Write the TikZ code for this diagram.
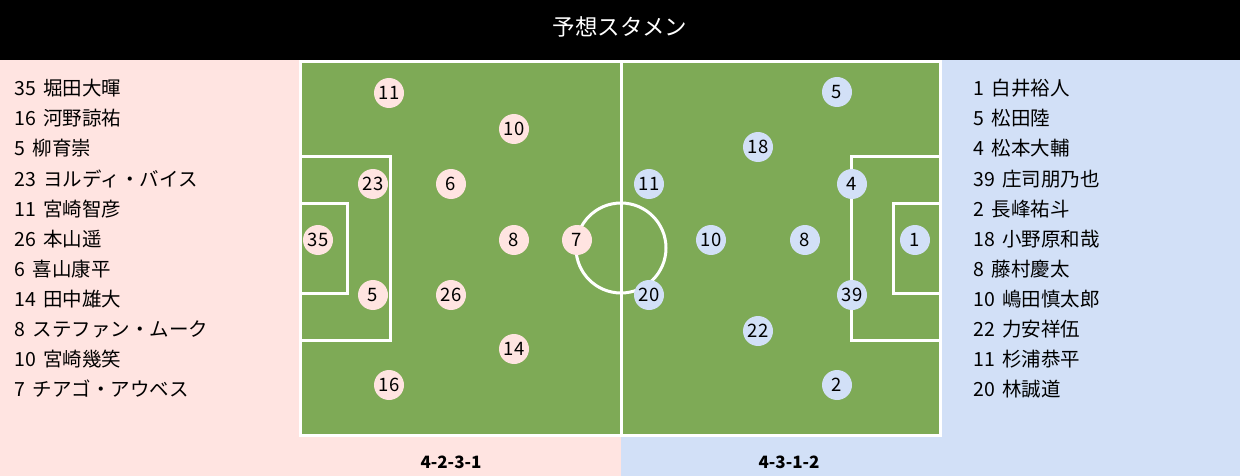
\documentclass[tikz,border=0pt]{standalone}
\usepackage{fontspec}
\setmainfont{Noto Sans CJK JP}
\definecolor{pinkbg}{HTML}{FFE4E1}
\definecolor{bluebg}{HTML}{D2E0F7}
\definecolor{pitch}{HTML}{7EAA56}
\tikzset{
  line/.style={draw=white, line width=3pt},
  pl/.style={circle, minimum size=30pt, inner sep=0pt, font=\fontsize{18.5}{18}\selectfont, text=black},
  home/.style={pl, fill=pinkbg},
  away/.style={pl, fill=bluebg},
  entry/.style={anchor=base west, inner sep=0pt, font=\fontsize{19.5}{20}\selectfont, text=black},
  form/.style={anchor=base, inner sep=0pt, font=\fontsize{17}{18}\selectfont\bfseries, text=black}
}
\begin{document}
\begin{tikzpicture}[x=1pt,y=-1pt]
\useasboundingbox (0,0) rectangle (1240,476);
\fill[black] (0,0) rectangle (1240,60);
\fill[pinkbg] (0,60) rectangle (621,476);
\fill[bluebg] (621,60) rectangle (1240,476);
\node[text=white, font=\fontsize{22.5}{24}\selectfont, anchor=base] (title) at (620,36) {予想スタメン};
% pitch
\fill[pitch] (300,62) rectangle (940,435);
\draw[line] (300,62) rectangle (940,435);
\draw[line] (621,62) -- (621,435);
\draw[line] (621,248) circle[radius=45];
\draw[line] (300,157) -- (390,157) -- (390,340) -- (300,340);
\draw[line] (300,203) -- (347,203) -- (347,293) -- (300,293);
\draw[line] (940,157) -- (851,157) -- (851,340) -- (940,340);
\draw[line] (940,203) -- (893,203) -- (893,293) -- (940,293);
% home players
\node[home] (h11) at (389,93) {11};
\node[home] (h10) at (514,129) {10};
\node[home] (h23) at (373,184) {23};
\node[home] (h6) at (451,184) {6};
\node[home] (h35) at (318,240) {35};
\node[home] (h8) at (514,240) {8};
\node[home] (h7) at (577,240) {7};
\node[home] (h5) at (373,295) {5};
\node[home] (h26) at (451,295) {26};
\node[home] (h14) at (514,349) {14};
\node[home] (h16) at (389,385) {16};
% away players
\node[away] (a5) at (837,92) {5};
\node[away] (a18) at (758,147) {18};
\node[away] (a11) at (649,184) {11};
\node[away] (a4) at (852,184) {4};
\node[away] (a10) at (711,240) {10};
\node[away] (a8) at (805,240) {8};
\node[away] (a1) at (915,240) {1};
\node[away] (a20) at (649,295) {20};
\node[away] (a39) at (852,295) {39};
\node[away] (a22) at (758,331) {22};
\node[away] (a2) at (837,385) {2};
% home list
\node[entry] (l1) at (14,96) {35\, 堀田大暉};
\node[entry] (l2) at (14,126) {16\, 河野諒祐};
\node[entry] (l3) at (14,156) {5\, 柳育崇};
\node[entry] (l4) at (14,186) {23\, ヨルディ・バイス};
\node[entry] (l5) at (14,216) {11\, 宮崎智彦};
\node[entry] (l6) at (14,246) {26\, 本山遥};
\node[entry] (l7) at (14,276) {6\, 喜山康平};
\node[entry] (l8) at (14,306) {14\, 田中雄大};
\node[entry] (l9) at (14,336) {8\, ステファン・ムーク};
\node[entry] (l10) at (14,366) {10\, 宮崎幾笑};
\node[entry] (l11) at (14,396) {7\, チアゴ・アウベス};
% away list
\node[entry] (r1) at (973,96) {1\, 白井裕人};
\node[entry] (r2) at (973,126) {5\, 松田陸};
\node[entry] (r3) at (973,156) {4\, 松本大輔};
\node[entry] (r4) at (973,186) {39\, 庄司朋乃也};
\node[entry] (r5) at (973,216) {2\, 長峰祐斗};
\node[entry] (r6) at (973,246) {18\, 小野原和哉};
\node[entry] (r7) at (973,276) {8\, 藤村慶太};
\node[entry] (r8) at (973,306) {10\, 嶋田慎太郎};
\node[entry] (r9) at (973,336) {22\, 力安祥伍};
\node[entry] (r10) at (973,366) {11\, 杉浦恭平};
\node[entry] (r11) at (973,396) {20\, 林誠道};
% formations
\node[form] (fh) at (451,468) {4-2-3-1};
\node[form] (fa) at (789,468) {4-3-1-2};
\end{tikzpicture}
\end{document}
